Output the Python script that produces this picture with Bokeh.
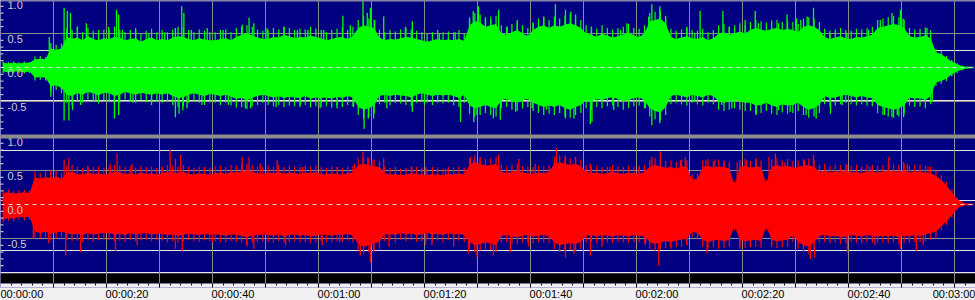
import numpy as np
from bokeh.plotting import figure
from bokeh.models import Range1d, FixedTicker, Grid, Span, BoxAnnotation, LinearAxis
from bokeh.core.properties import value
from bokeh.embed import file_html
from bokeh.resources import INLINE

# ---------------- data ----------------
# body envelope per second, t = 0 .. 183 s
top_hi = [
    0.07, 0.06, 0.07, 0.06, 0.07, 0.07, 0.12, 0.13, 0.12, 0.28,
    0.26, 0.28, 0.45, 0.42, 0.44, 0.40, 0.46, 0.42, 0.40, 0.43,
    0.42, 0.45, 0.44, 0.40, 0.42, 0.43, 0.38, 0.42, 0.44, 0.40,
    0.42, 0.40, 0.44, 0.46, 0.45, 0.42, 0.40, 0.43, 0.41, 0.40,
    0.40, 0.42, 0.43, 0.40, 0.45, 0.48, 0.50, 0.47, 0.44, 0.42,
    0.42, 0.45, 0.44, 0.48, 0.46, 0.43, 0.45, 0.44, 0.47, 0.45,
    0.43, 0.40, 0.42, 0.44, 0.45, 0.42, 0.46, 0.58, 0.62, 0.60,
    0.58, 0.44, 0.40, 0.42, 0.41, 0.43, 0.45, 0.44, 0.42, 0.40,
    0.38, 0.40, 0.42, 0.40, 0.41, 0.40, 0.42, 0.39, 0.62, 0.68,
    0.66, 0.60, 0.62, 0.64, 0.50, 0.48, 0.52, 0.55, 0.50, 0.46,
    0.55, 0.60, 0.62, 0.58, 0.62, 0.60, 0.63, 0.65, 0.62, 0.58,
    0.50, 0.48, 0.45, 0.50, 0.47, 0.44, 0.46, 0.48, 0.52, 0.47,
    0.45, 0.50, 0.68, 0.70, 0.72, 0.65, 0.45, 0.42, 0.44, 0.46,
    0.43, 0.42, 0.45, 0.40, 0.43, 0.50, 0.52, 0.48, 0.50, 0.53,
    0.50, 0.55, 0.58, 0.56, 0.54, 0.57, 0.58, 0.55, 0.57, 0.55,
    0.52, 0.60, 0.62, 0.60, 0.55, 0.45, 0.42, 0.44, 0.46, 0.43,
    0.42, 0.45, 0.44, 0.46, 0.48, 0.58, 0.60, 0.62, 0.64, 0.62,
    0.58, 0.46, 0.44, 0.45, 0.47, 0.43, 0.22, 0.20, 0.14, 0.09,
    0.05, 0.02, 0.01, 0.01,
]
top_lo = [
    -0.06, -0.07, -0.06, -0.06, -0.07, -0.06, -0.15, -0.14, -0.15, -0.28,
    -0.26, -0.30, -0.40, -0.42, -0.38, -0.40, -0.36, -0.38, -0.41, -0.37,
    -0.38, -0.42, -0.40, -0.36, -0.38, -0.40, -0.37, -0.39, -0.40, -0.38,
    -0.40, -0.38, -0.42, -0.45, -0.44, -0.40, -0.38, -0.40, -0.42, -0.39,
    -0.40, -0.42, -0.40, -0.43, -0.46, -0.45, -0.48, -0.44, -0.42, -0.40,
    -0.42, -0.44, -0.42, -0.45, -0.43, -0.44, -0.45, -0.42, -0.46, -0.44,
    -0.45, -0.44, -0.46, -0.43, -0.45, -0.42, -0.44, -0.58, -0.62, -0.60,
    -0.56, -0.42, -0.40, -0.42, -0.40, -0.41, -0.42, -0.44, -0.40, -0.38,
    -0.40, -0.42, -0.40, -0.41, -0.40, -0.42, -0.45, -0.40, -0.56, -0.60,
    -0.58, -0.55, -0.58, -0.60, -0.48, -0.46, -0.50, -0.52, -0.48, -0.46,
    -0.52, -0.55, -0.58, -0.56, -0.58, -0.55, -0.60, -0.62, -0.58, -0.55,
    -0.48, -0.50, -0.46, -0.48, -0.45, -0.44, -0.46, -0.50, -0.48, -0.45,
    -0.44, -0.48, -0.60, -0.64, -0.66, -0.58, -0.42, -0.40, -0.42, -0.44,
    -0.40, -0.42, -0.44, -0.40, -0.42, -0.50, -0.52, -0.50, -0.48, -0.50,
    -0.52, -0.52, -0.56, -0.55, -0.52, -0.56, -0.58, -0.54, -0.56, -0.55,
    -0.52, -0.58, -0.62, -0.60, -0.55, -0.42, -0.45, -0.44, -0.42, -0.40,
    -0.42, -0.44, -0.42, -0.44, -0.45, -0.55, -0.58, -0.60, -0.62, -0.60,
    -0.56, -0.44, -0.46, -0.45, -0.48, -0.42, -0.22, -0.20, -0.16, -0.10,
    -0.06, -0.03, -0.01, -0.01,
]
bot_hi = [
    0.17, 0.18, 0.16, 0.17, 0.18, 0.17, 0.40, 0.38, 0.40, 0.39,
    0.41, 0.38, 0.46, 0.48, 0.45, 0.44, 0.47, 0.45, 0.46, 0.44,
    0.45, 0.48, 0.47, 0.45, 0.46, 0.44, 0.47, 0.45, 0.46, 0.44,
    0.46, 0.48, 0.47, 0.46, 0.48, 0.45, 0.44, 0.46, 0.45, 0.44,
    0.46, 0.47, 0.45, 0.48, 0.47, 0.49, 0.50, 0.48, 0.46, 0.45,
    0.47, 0.46, 0.48, 0.45, 0.47, 0.46, 0.45, 0.47, 0.46, 0.48,
    0.45, 0.44, 0.46, 0.45, 0.44, 0.46, 0.47, 0.58, 0.60, 0.58,
    0.56, 0.55, 0.46, 0.44, 0.45, 0.43, 0.44, 0.46, 0.45, 0.44,
    0.43, 0.45, 0.44, 0.43, 0.45, 0.44, 0.46, 0.44, 0.58, 0.62,
    0.60, 0.57, 0.58, 0.60, 0.48, 0.46, 0.48, 0.50, 0.47, 0.46,
    0.45, 0.47, 0.46, 0.48, 0.60, 0.62, 0.60, 0.58, 0.60, 0.56,
    0.48, 0.46, 0.47, 0.45, 0.46, 0.48, 0.46, 0.45, 0.47, 0.46,
    0.45, 0.48, 0.55, 0.58, 0.56, 0.54, 0.55, 0.53, 0.56, 0.55,
    0.36, 0.38, 0.55, 0.57, 0.54, 0.56, 0.55, 0.53, 0.28, 0.55,
    0.57, 0.54, 0.56, 0.55, 0.30, 0.56, 0.58, 0.55, 0.57, 0.54,
    0.55, 0.57, 0.58, 0.55, 0.48, 0.50, 0.47, 0.49, 0.48, 0.50,
    0.47, 0.48, 0.46, 0.49, 0.48, 0.47, 0.48, 0.50, 0.49, 0.48,
    0.50, 0.47, 0.49, 0.48, 0.47, 0.46, 0.42, 0.36, 0.28, 0.18,
    0.08, 0.03, 0.01, 0.01,
]
bot_lo = [
    -0.22, -0.20, -0.21, -0.18, -0.19, -0.18, -0.40, -0.42, -0.40, -0.43,
    -0.41, -0.40, -0.42, -0.44, -0.43, -0.45, -0.42, -0.44, -0.43, -0.42,
    -0.42, -0.44, -0.43, -0.45, -0.42, -0.44, -0.43, -0.42, -0.44, -0.43,
    -0.43, -0.45, -0.44, -0.46, -0.44, -0.43, -0.44, -0.45, -0.43, -0.44,
    -0.44, -0.45, -0.46, -0.44, -0.45, -0.46, -0.48, -0.46, -0.45, -0.44,
    -0.45, -0.46, -0.44, -0.47, -0.45, -0.44, -0.46, -0.45, -0.47, -0.46,
    -0.44, -0.45, -0.46, -0.44, -0.45, -0.43, -0.46, -0.58, -0.62, -0.60,
    -0.57, -0.55, -0.44, -0.43, -0.45, -0.42, -0.44, -0.43, -0.45, -0.44,
    -0.42, -0.44, -0.43, -0.45, -0.42, -0.44, -0.43, -0.45, -0.55, -0.60,
    -0.58, -0.56, -0.57, -0.60, -0.46, -0.45, -0.47, -0.48, -0.46, -0.45,
    -0.47, -0.46, -0.45, -0.47, -0.56, -0.60, -0.58, -0.57, -0.58, -0.55,
    -0.46, -0.45, -0.47, -0.45, -0.46, -0.47, -0.45, -0.46, -0.47, -0.45,
    -0.46, -0.47, -0.55, -0.58, -0.56, -0.54, -0.55, -0.53, -0.52, -0.50,
    -0.40, -0.42, -0.52, -0.55, -0.53, -0.52, -0.54, -0.52, -0.32, -0.52,
    -0.54, -0.53, -0.52, -0.54, -0.32, -0.52, -0.54, -0.53, -0.52, -0.45,
    -0.55, -0.60, -0.62, -0.56, -0.46, -0.45, -0.47, -0.46, -0.48, -0.47,
    -0.45, -0.46, -0.47, -0.45, -0.46, -0.47, -0.46, -0.47, -0.46, -0.48,
    -0.46, -0.47, -0.45, -0.46, -0.44, -0.42, -0.40, -0.32, -0.25, -0.16,
    -0.06, -0.02, -0.01, -0.01,
]

# hair tips per second (highest / lowest thin line in each second)
top_peak = [
    0.09, 0.08, 0.09, 0.08, 0.09, 0.08, 0.16, 0.17, 0.15, 0.36,
    0.33, 0.35, 0.58, 0.55, 0.60, 0.52, 0.58, 0.54, 0.50, 0.56,
    0.55, 0.60, 0.56, 0.52, 0.55, 0.58, 0.50, 0.54, 0.57, 0.52,
    0.55, 0.52, 0.56, 0.60, 0.58, 0.55, 0.52, 0.56, 0.54, 0.52,
    0.52, 0.55, 0.56, 0.52, 0.58, 0.60, 0.62, 0.60, 0.56, 0.54,
    0.55, 0.58, 0.56, 0.60, 0.58, 0.55, 0.57, 0.56, 0.60, 0.57,
    0.55, 0.52, 0.55, 0.57, 0.58, 0.55, 0.60, 0.70, 0.75, 0.72,
    0.70, 0.56, 0.52, 0.55, 0.53, 0.56, 0.58, 0.56, 0.54, 0.52,
    0.50, 0.52, 0.55, 0.52, 0.53, 0.52, 0.55, 0.50, 0.74, 0.80,
    0.78, 0.72, 0.75, 0.76, 0.62, 0.60, 0.64, 0.66, 0.62, 0.58,
    0.66, 0.72, 0.74, 0.70, 0.75, 0.72, 0.76, 0.78, 0.74, 0.70,
    0.62, 0.60, 0.57, 0.62, 0.58, 0.56, 0.58, 0.60, 0.64, 0.58,
    0.57, 0.62, 0.80, 0.82, 0.84, 0.76, 0.57, 0.54, 0.56, 0.58,
    0.55, 0.54, 0.57, 0.52, 0.55, 0.62, 0.64, 0.60, 0.62, 0.65,
    0.62, 0.67, 0.70, 0.68, 0.66, 0.69, 0.70, 0.67, 0.69, 0.67,
    0.64, 0.72, 0.74, 0.72, 0.67, 0.57, 0.54, 0.56, 0.58, 0.55,
    0.54, 0.57, 0.56, 0.58, 0.60, 0.70, 0.72, 0.74, 0.76, 0.74,
    0.70, 0.58, 0.56, 0.57, 0.59, 0.55, 0.27, 0.24, 0.17, 0.11,
    0.06, 0.03, 0.015, 0.01,
]
top_trough = [
    -0.08, -0.09, -0.08, -0.08, -0.09, -0.08, -0.19, -0.18, -0.19, -0.36,
    -0.33, -0.38, -0.52, -0.55, -0.50, -0.52, -0.47, -0.50, -0.53, -0.48,
    -0.50, -0.55, -0.52, -0.47, -0.50, -0.52, -0.48, -0.51, -0.52, -0.50,
    -0.52, -0.50, -0.55, -0.58, -0.57, -0.52, -0.50, -0.52, -0.55, -0.51,
    -0.52, -0.55, -0.52, -0.56, -0.59, -0.58, -0.61, -0.57, -0.55, -0.52,
    -0.55, -0.57, -0.55, -0.58, -0.56, -0.57, -0.58, -0.55, -0.59, -0.57,
    -0.58, -0.57, -0.59, -0.56, -0.58, -0.55, -0.57, -0.70, -0.75, -0.72,
    -0.68, -0.54, -0.52, -0.55, -0.52, -0.53, -0.55, -0.57, -0.52, -0.50,
    -0.52, -0.55, -0.52, -0.53, -0.52, -0.55, -0.58, -0.52, -0.68, -0.72,
    -0.70, -0.67, -0.70, -0.72, -0.60, -0.58, -0.62, -0.64, -0.60, -0.58,
    -0.64, -0.67, -0.70, -0.68, -0.70, -0.67, -0.72, -0.74, -0.70, -0.67,
    -0.60, -0.62, -0.58, -0.60, -0.57, -0.56, -0.58, -0.62, -0.60, -0.57,
    -0.56, -0.60, -0.72, -0.76, -0.78, -0.70, -0.54, -0.52, -0.54, -0.56,
    -0.52, -0.54, -0.56, -0.52, -0.54, -0.62, -0.64, -0.62, -0.60, -0.62,
    -0.64, -0.64, -0.68, -0.67, -0.64, -0.68, -0.70, -0.66, -0.68, -0.67,
    -0.64, -0.70, -0.74, -0.72, -0.67, -0.54, -0.57, -0.56, -0.54, -0.52,
    -0.54, -0.56, -0.54, -0.56, -0.57, -0.67, -0.70, -0.72, -0.74, -0.72,
    -0.68, -0.56, -0.58, -0.57, -0.60, -0.54, -0.27, -0.24, -0.20, -0.13,
    -0.08, -0.04, -0.015, -0.01,
]
bot_peak = [
    0.21, 0.22, 0.20, 0.21, 0.22, 0.21, 0.48, 0.46, 0.48, 0.47,
    0.50, 0.46, 0.56, 0.58, 0.55, 0.54, 0.57, 0.55, 0.56, 0.54,
    0.55, 0.58, 0.57, 0.55, 0.56, 0.54, 0.57, 0.55, 0.56, 0.54,
    0.56, 0.58, 0.57, 0.56, 0.58, 0.55, 0.54, 0.56, 0.55, 0.54,
    0.56, 0.57, 0.55, 0.58, 0.57, 0.59, 0.60, 0.58, 0.56, 0.55,
    0.57, 0.56, 0.58, 0.55, 0.57, 0.56, 0.55, 0.57, 0.56, 0.58,
    0.55, 0.54, 0.56, 0.55, 0.54, 0.56, 0.57, 0.68, 0.70, 0.68,
    0.66, 0.64, 0.56, 0.54, 0.55, 0.53, 0.54, 0.56, 0.55, 0.54,
    0.53, 0.55, 0.54, 0.53, 0.55, 0.54, 0.56, 0.54, 0.68, 0.72,
    0.70, 0.67, 0.68, 0.70, 0.58, 0.56, 0.58, 0.60, 0.57, 0.56,
    0.55, 0.57, 0.56, 0.58, 0.70, 0.72, 0.70, 0.68, 0.70, 0.66,
    0.58, 0.56, 0.57, 0.55, 0.56, 0.58, 0.56, 0.55, 0.57, 0.56,
    0.55, 0.58, 0.65, 0.68, 0.66, 0.64, 0.65, 0.63, 0.66, 0.65,
    0.44, 0.46, 0.65, 0.67, 0.64, 0.66, 0.65, 0.63, 0.34, 0.65,
    0.67, 0.64, 0.66, 0.65, 0.36, 0.66, 0.68, 0.65, 0.67, 0.64,
    0.65, 0.67, 0.68, 0.65, 0.58, 0.60, 0.57, 0.59, 0.58, 0.60,
    0.57, 0.58, 0.56, 0.59, 0.58, 0.57, 0.58, 0.60, 0.59, 0.58,
    0.60, 0.57, 0.59, 0.58, 0.57, 0.56, 0.50, 0.43, 0.34, 0.22,
    0.10, 0.04, 0.015, 0.01,
]
bot_trough = [
    -0.26, -0.24, -0.25, -0.22, -0.23, -0.22, -0.48, -0.50, -0.48, -0.52,
    -0.50, -0.48, -0.52, -0.54, -0.53, -0.55, -0.52, -0.54, -0.53, -0.52,
    -0.52, -0.54, -0.53, -0.55, -0.52, -0.54, -0.53, -0.52, -0.54, -0.53,
    -0.53, -0.55, -0.54, -0.56, -0.54, -0.53, -0.54, -0.55, -0.53, -0.54,
    -0.54, -0.55, -0.56, -0.54, -0.55, -0.56, -0.58, -0.56, -0.55, -0.54,
    -0.55, -0.56, -0.54, -0.57, -0.55, -0.54, -0.56, -0.55, -0.57, -0.56,
    -0.54, -0.55, -0.56, -0.54, -0.55, -0.53, -0.56, -0.68, -0.72, -0.70,
    -0.67, -0.65, -0.54, -0.53, -0.55, -0.52, -0.54, -0.53, -0.55, -0.54,
    -0.52, -0.54, -0.53, -0.55, -0.52, -0.54, -0.53, -0.55, -0.65, -0.70,
    -0.68, -0.66, -0.67, -0.70, -0.56, -0.55, -0.57, -0.58, -0.56, -0.55,
    -0.57, -0.56, -0.55, -0.57, -0.66, -0.70, -0.68, -0.67, -0.68, -0.65,
    -0.56, -0.55, -0.57, -0.55, -0.56, -0.57, -0.55, -0.56, -0.57, -0.55,
    -0.56, -0.57, -0.65, -0.68, -0.66, -0.64, -0.65, -0.63, -0.62, -0.60,
    -0.48, -0.50, -0.62, -0.65, -0.63, -0.62, -0.64, -0.62, -0.38, -0.62,
    -0.64, -0.63, -0.62, -0.64, -0.38, -0.62, -0.64, -0.63, -0.62, -0.55,
    -0.65, -0.70, -0.72, -0.66, -0.56, -0.55, -0.57, -0.56, -0.58, -0.57,
    -0.55, -0.56, -0.57, -0.55, -0.56, -0.57, -0.56, -0.57, -0.56, -0.58,
    -0.56, -0.57, -0.55, -0.56, -0.54, -0.52, -0.48, -0.38, -0.30, -0.19,
    -0.08, -0.03, -0.015, -0.01,
]

# prominent peak spikes (time in s, amplitude)
top_spike_t = [9.2, 12.0, 12.6, 13.2, 14.5, 16.2, 18.5, 20.4, 21.9, 22.3, 23.0, 25.5, 28.0,
               31.0, 33.0, 34.2, 34.6, 36.0, 39.0, 42.0, 45.6, 46.9, 47.8, 50.3, 53.5, 56.0,
               58.0, 61.0, 64.6, 66.0, 68.4, 69.2, 69.8, 70.6, 72.3, 76.4, 77.7, 82.8, 85.8,
               88.5, 89.2, 90.2, 91.5, 92.5, 94.0, 95.6, 97.5, 100.5, 102.5, 104.7, 106.6,
               107.6, 108.5, 111.5, 117.0, 118.2, 122.3, 122.9, 124.4, 125.5, 129.5, 131.0,
               132.0, 136.3, 137.5, 140.5, 142.4, 143.0, 146.8, 148.4, 150.2, 151.0, 152.2,
               153.4, 156.5, 159.7, 163.8, 166.0, 168.2, 169.8, 170.3, 174.8,
               9.5, 12.0, 12.9, 13.6, 15.1, 18.0, 21.5, 22.3, 25.0, 28.5, 33.0, 33.7, 34.4,
               35.2, 38.0, 43.0, 46.2, 47.2, 52.0, 56.6, 60.3, 63.5, 66.6, 68.6, 69.4, 70.4,
               72.9, 77.7, 80.0, 86.8, 89.3, 89.9, 93.0, 94.3, 97.2, 100.3, 103.0, 106.6,
               108.2, 111.3, 111.6, 115.7, 121.7, 122.9, 124.4, 131.0, 136.1, 138.0, 142.6,
               146.8, 149.0, 152.0, 153.9, 156.6, 158.8, 166.8, 168.2, 169.2, 170.4, 175.8]
top_spike_v = [0.45, 0.88, 0.83, 0.80, 0.60, 0.65, 0.55, 0.60, 0.85, 0.78, 0.55, 0.55, 0.50,
               0.52, 0.58, 0.90, 0.80, 0.55, 0.58, 0.55, 0.63, 0.73, 0.65, 0.58, 0.60, 0.55,
               0.55, 0.55, 0.76, 0.62, 0.98, 0.80, 0.88, 0.70, 0.75, 0.60, 0.68, 0.50, 0.52,
               0.70, 0.83, 0.90, 0.74, 0.70, 0.85, 0.60, 0.70, 0.65, 0.75, 0.93, 0.85,
               0.82, 0.78, 0.60, 0.55, 0.65, 0.75, 0.93, 0.90, 0.72, 0.60, 0.50,
               0.83, 0.83, 0.60, 0.70, 0.83, 0.65, 0.65, 0.78, 0.72, 0.70, 0.75,
               0.88, 0.50, 0.50, 0.55, 0.70, 0.80, 0.85, 0.72, 0.58,
               -0.43, -0.78, -0.78, -0.62, -0.55, -0.50, -0.75, -0.70, -0.52, -0.55, -0.73, -0.68, -0.63,
               -0.60, -0.55, -0.55, -0.60, -0.60, -0.58, -0.55, -0.60, -0.60, -0.58, -0.90, -0.75, -0.75,
               -0.60, -0.65, -0.55, -0.80, -0.80, -0.70, -0.75, -0.77, -0.65, -0.60, -0.62, -0.75,
               -0.75, -0.83, -0.80, -0.62, -0.60, -0.85, -0.82, -0.50, -0.55, -0.60, -0.70,
               -0.63, -0.65, -0.70, -0.75, -0.68, -0.55, -0.70, -0.73, -0.70, -0.73, -0.50]
bot_spike_t = [9.5, 12.0, 12.9, 16.5, 20.7, 22.0, 24.8, 30.5, 32.0, 33.0, 34.0, 38.5, 45.6,
               46.9, 49.0, 52.2, 57.0, 63.6, 66.8, 68.4, 69.3, 70.1, 72.3, 77.6, 80.2, 84.0,
               88.7, 89.3, 90.5, 94.0, 97.8, 100.9, 104.9, 106.6, 108.5, 111.3, 115.0, 120.5,
               122.9, 124.5, 128.3, 129.2, 133.1, 134.8, 136.5, 139.0, 140.8, 142.6, 145.0,
               146.2, 148.0, 151.7, 153.4, 159.7, 164.0, 167.6, 170.4, 171.1, 175.0,
               6.2, 9.1, 12.3, 15.1, 21.7, 25.8, 33.0, 34.3, 40.0, 46.5, 47.8, 53.8, 60.7,
               64.0, 67.9, 69.8, 70.4, 73.3, 80.2, 81.4, 85.5, 88.3, 89.9, 93.0, 96.2, 99.6,
               106.6, 108.2, 111.3, 113.5, 121.7, 124.2, 126.4, 129.5, 133.3, 135.5, 139.5,
               141.5, 145.5, 152.8, 153.6, 159.8, 165.0, 169.8, 172.8, 174.1]
bot_spike_v = [0.50, 0.66, 0.68, 0.55, 0.60, 0.75, 0.60, 0.55, 0.80, 0.67, 0.73, 0.55, 0.70,
               0.70, 0.60, 0.65, 0.55, 0.55, 0.60, 0.78, 0.70, 0.65, 0.68, 0.55, 0.55, 0.52,
               0.70, 0.65, 0.68, 0.73, 0.67, 0.60, 0.83, 0.72, 0.70, 0.60, 0.55, 0.57,
               0.70, 0.78, 0.65, 0.70, 0.65, 0.66, 0.62, 0.62, 0.65, 0.68, 0.70,
               0.75, 0.62, 0.65, 0.73, 0.58, 0.56, 0.70, 0.63, 0.60, 0.56,
               -0.50, -0.57, -0.75, -0.70, -0.68, -0.60, -0.65, -0.68, -0.55, -0.62, -0.65, -0.60, -0.60,
               -0.55, -0.75, -0.85, -0.70, -0.62, -0.60, -0.60, -0.62, -0.72, -0.78, -0.75, -0.70, -0.62,
               -0.78, -0.72, -0.75, -0.62, -0.60, -0.90, -0.62, -0.60, -0.72, -0.65, -0.65,
               -0.62, -0.60, -0.80, -0.78, -0.71, -0.60, -0.65, -0.68, -0.60]

# axis texts
y_tick_values = [1.0, 0.5, 0.0, -0.5]
y_tick_labels = ["1.0", "0.5", "0.0", "-0.5"]
time_tick_seconds = [0, 20, 40, 60, 80, 100, 120, 140, 160, 180]
time_tick_labels = ["00:00:00", "00:00:20", "00:00:40", "00:01:00", "00:01:20",
                    "00:01:40", "00:02:00", "00:02:20", "00:02:40", "00:03:00"]

# ---------------- styling / layout ----------------
NAVY = "#000080"
GREEN = "#00ff00"
RED = "#ff0000"
GRID = "#8c8c8c"
LABEL = "#cfcfcf"
STRIP = "#f0f0f0"
PX_PER_SEC = 5.3
FRAME_W, FRAME_H = 975, 287
LABEL_SHIFT_PX = 20.5   # time labels start at their tick (left aligned)

seconds = np.arange(len(top_hi))
grid_seconds = list(range(0, 190, 10))
minor_seconds = list(range(0, 186, 2))
x_end = FRAME_W / PX_PER_SEC
shift = LABEL_SHIFT_PX / PX_PER_SEC

p = figure(frame_width=FRAME_W, frame_height=FRAME_H,
           x_range=Range1d(0, x_end), y_range=Range1d(-FRAME_H, 0),
           output_backend="svg", toolbar_location=None,
           x_axis_location=None, y_axis_location=None,
           min_border=0, background_fill_color=NAVY, border_fill_color=STRIP,
           outline_line_color=None)


def chan_range(px_top, px_bot):
    per = 2.0 / (px_bot - px_top)
    return Range1d(start=1 + px_top * per - FRAME_H * per, end=1 + px_top * per)


p.extra_y_ranges = {"L": chan_range(-1, 135), "R": chan_range(136, 272)}
p.extra_x_ranges = {"lab": Range1d(-shift, x_end - shift)}


def band(px0, px1, color, level="annotation"):
    p.add_layout(BoxAnnotation(top=-px0, bottom=-px1, fill_color=color, fill_alpha=1.0,
                               line_color=None, level=level))


# frame decorations below the grid
band(271.5, 273, "#e6e6e6", level="image")
band(273, 283, "#000000", level="image")
band(283, FRAME_H + 1, STRIP, level="image")

# vertical grid over both channels and the black band
p.add_layout(Grid(dimension=0, ticker=FixedTicker(ticks=grid_seconds), cross_bounds=(-283, 0),
                  grid_line_color=GRID))
# tick marks under the black band
p.add_layout(Grid(dimension=0, ticker=FixedTicker(ticks=grid_seconds), cross_bounds=(-288, -283),
                  grid_line_color="#000000"))
p.add_layout(Grid(dimension=0, ticker=FixedTicker(ticks=minor_seconds), cross_bounds=(-285, -283),
                  grid_line_color="#000000"))

for name in ("L", "R"):
    p.add_layout(Grid(dimension=1, ticker=FixedTicker(ticks=[-0.5, 0.5]), y_range_name=name,
                      grid_line_color=GRID))

# waveforms
for name, hi, lo, pk, tr, st, sv, col in (
        ("L", top_hi, top_lo, top_peak, top_trough, top_spike_t, top_spike_v, GREEN),
        ("R", bot_hi, bot_lo, bot_peak, bot_trough, bot_spike_t, bot_spike_v, RED)):
    p.varea(x=seconds + 0.5, y1=lo, y2=hi, y_range_name=name, fill_color=col)
    p.segment(x0=seconds + 0.5, y0=tr, x1=seconds + 0.5, y1=pk, y_range_name=name,
              line_color=col, line_width=1.2)
    p.segment(x0=st, y0=[0] * len(st), x1=st, y1=sv, y_range_name=name,
              line_color=col, line_width=1.3)
    p.add_layout(Span(location=0, dimension="width", y_range_name=name,
                      line_color="#d8d8d8", line_dash="4 4", line_width=1))
    p.text(x=[0] * len(y_tick_values), y=y_tick_values, text=y_tick_labels, y_range_name=name,
           x_offset=7, y_offset=1, text_align="left", text_baseline="top",
           text_font=value("Liberation Sans"), text_font_size="11px", text_color=LABEL)
    dash_vals = [v / 10 for v in range(-9, 10) if v % 5 != 0]
    p.scatter(x=[0] * len(dash_vals), y=dash_vals, marker="dash", size=6,
              line_color="#e0e0e0", y_range_name=name)

# frame decorations above the waves
band(0, 1, GRID)
band(134, 138, GRID)

# time labels (axis on a range shifted by half a label width -> left aligned at the tick)
ax = LinearAxis(x_range_name="lab")
ax.ticker = FixedTicker(ticks=time_tick_seconds)
ax.major_label_overrides = dict(zip(time_tick_seconds, time_tick_labels))
ax.major_label_text_font = "Liberation Sans"
ax.major_label_text_font_size = "11px"
ax.major_label_text_color = "#000000"
ax.major_label_standoff = 0
ax.major_tick_in = 0
ax.major_tick_out = 0
ax.minor_tick_in = 0
ax.minor_tick_out = 0
ax.axis_line_color = None
p.add_layout(ax, "below")

open("out.html", "w").write(file_html(p, INLINE))
